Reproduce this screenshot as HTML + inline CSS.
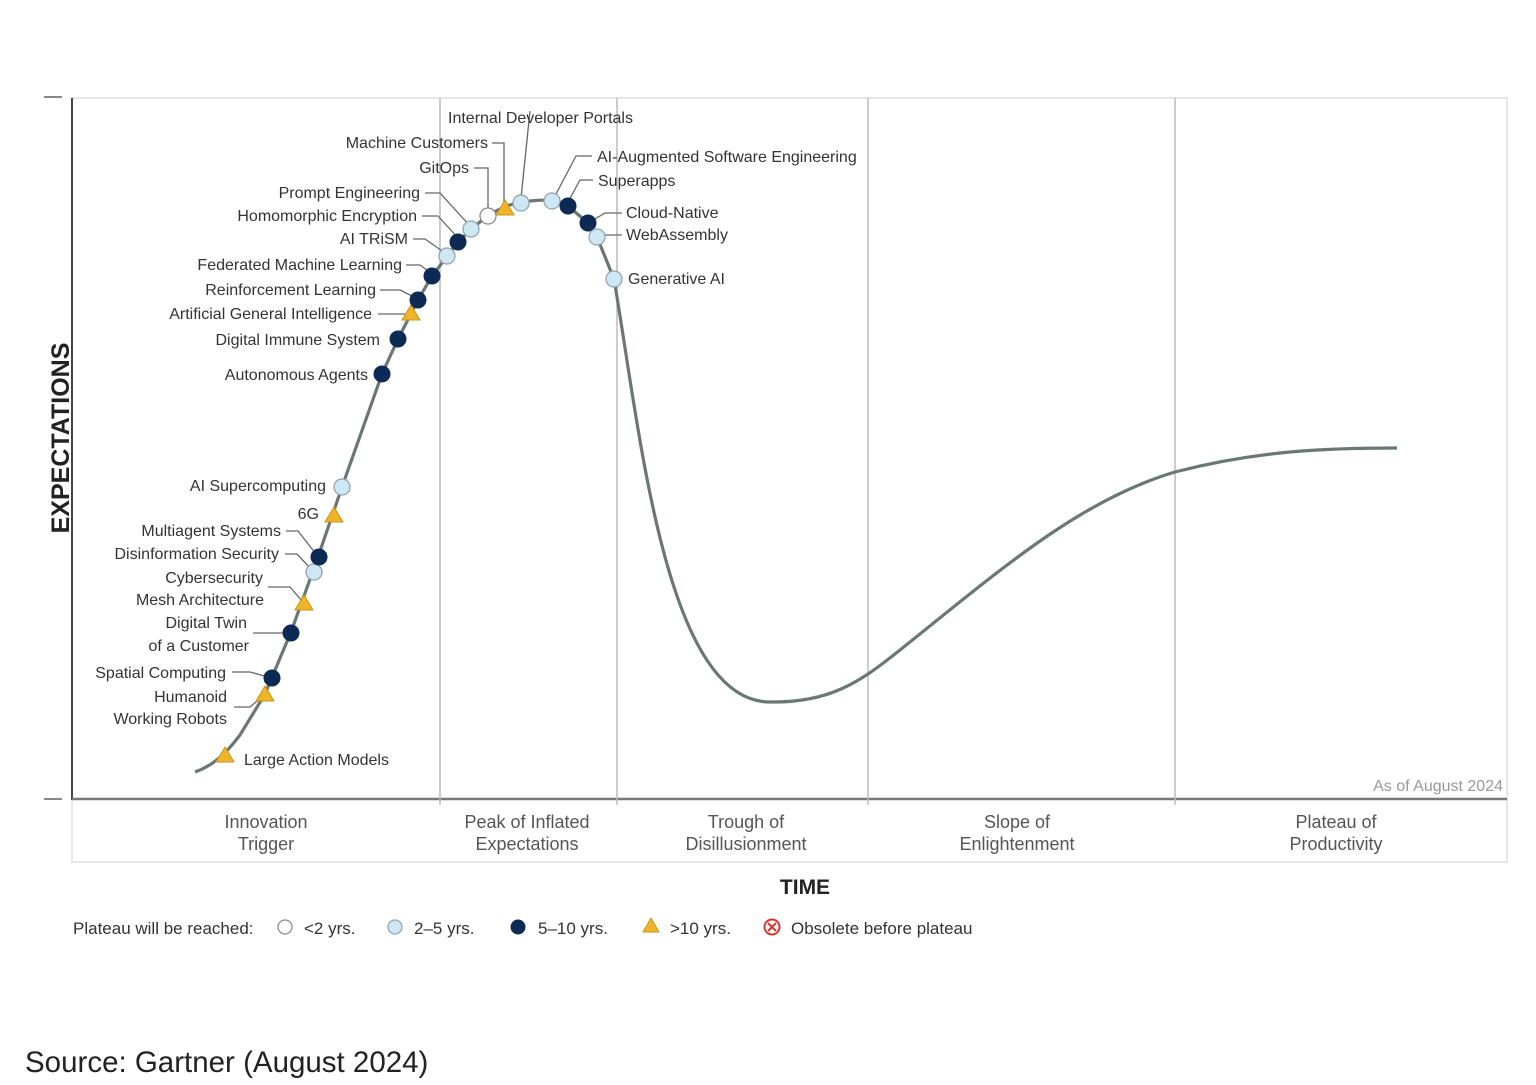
<!DOCTYPE html>
<html><head><meta charset="utf-8"><style>
html,body{margin:0;padding:0;background:#fff;}
svg{display:block;font-family:"Liberation Sans",sans-serif;}
.l{font-size:16px;fill:#333;}
.ph{font-size:18px;fill:#555;text-anchor:middle;}
.ld{stroke:#666;stroke-width:1.3;fill:none;}
.d{fill:#0d2a55;stroke:#0d2a55;stroke-width:1;}
.b{fill:#cfe6f3;stroke:#8fa5b0;stroke-width:1.3;}
.w{fill:#fff;stroke:#8a8a8a;stroke-width:1.3;}
.t{fill:#f0b429;stroke:#c9951c;stroke-width:1;}
</style></head><body>
<svg width="1536" height="1085" viewBox="0 0 1536 1085">
<rect x="72" y="98" width="1435" height="764" fill="none" stroke="#ddd" stroke-width="1.5"/>
<line x1="72" y1="98" x2="72" y2="800" stroke="#444" stroke-width="2"/>
<line x1="72" y1="799" x2="1507" y2="799" stroke="#777" stroke-width="2.5"/>
<line x1="44" y1="97" x2="62" y2="97" stroke="#888" stroke-width="2"/>
<line x1="44" y1="799" x2="62" y2="799" stroke="#888" stroke-width="2"/>
<g stroke="#bbb" stroke-width="1.5">
<line x1="440" y1="98" x2="440" y2="805"/>
<line x1="617" y1="98" x2="617" y2="805"/>
<line x1="868" y1="98" x2="868" y2="805"/>
<line x1="1175" y1="98" x2="1175" y2="805"/>
</g>
<path d="M195,772 C212,766 225,755 240,735 L265,694 L291,632 L318,557 L342,487 L382,374 L398,339 L418,300 L432,276 L458,242 C480,220 500,203 530,201 C550,199 560,200 568,206 L588,223 L597,237 L614,279 C640,430 665,702 770,702 C830,703 860,682 900,650 C1000,570 1080,500 1175,472 C1260,450 1330,448 1397,448" fill="none" stroke="#6b7775" stroke-width="3.2"/>
<g class="ld">
<polyline points="492,143 504,143 504,205"/>
<polyline points="474,168 488,168 488,210"/>
<polyline points="425,193 440,193 470,226"/>
<polyline points="422,216 438,216 458,238"/>
<polyline points="413,239 425,239 445,253"/>
<polyline points="406,265 420,265 431,273"/>
<polyline points="380,290 400,290 416,298"/>
<polyline points="378,314 408,314"/>
<polyline points="530,111 521,198"/>
<polyline points="592,156 576,156 555,196"/>
<polyline points="593,180 580,180 568,202"/>
<polyline points="622,213 605,213 590,222"/>
<polyline points="622,235 600,235"/>
<polyline points="286,531 298,531 316,554"/>
<polyline points="285,554 297,554 312,570"/>
<polyline points="268,587 290,587 302,601"/>
<polyline points="253,633 288,633"/>
<polyline points="232,672 250,672 268,677"/>
<polyline points="234,707 250,707 262,697"/>
</g>
<g>
<polygon class="t" points="225,747 234,762 216,762"/>
<polygon class="t" points="265,686 274,701 256,701"/>
<circle class="d" cx="272" cy="678" r="8"/>
<circle class="d" cx="291" cy="633" r="8"/>
<polygon class="t" points="304,595 313,610 295,610"/>
<circle class="b" cx="314" cy="572" r="8"/>
<circle class="d" cx="319" cy="557" r="8"/>
<polygon class="t" points="334,507 343,522 325,522"/>
<circle class="b" cx="342" cy="487" r="8"/>
<circle class="d" cx="382" cy="374" r="8"/>
<circle class="d" cx="398" cy="339" r="8"/>
<polygon class="t" points="411,305 420,320 402,320"/>
<circle class="d" cx="418" cy="300" r="8"/>
<circle class="d" cx="432" cy="276" r="8"/>
<circle class="b" cx="447" cy="256" r="8"/>
<circle class="d" cx="458" cy="242" r="8"/>
<circle class="b" cx="471" cy="229" r="8"/>
<circle class="w" cx="488" cy="216" r="8"/>
<polygon class="t" points="505,200 514,215 496,215"/>
<circle class="b" cx="521" cy="203" r="8"/>
<circle class="b" cx="552" cy="201" r="8"/>
<circle class="d" cx="568" cy="206" r="8"/>
<circle class="d" cx="588" cy="223" r="8"/>
<circle class="b" cx="597" cy="237" r="8"/>
<circle class="b" cx="614" cy="279" r="8"/>
</g>
<g class="l" text-anchor="end">
<text x="488" y="148">Machine Customers</text>
<text x="469" y="173">GitOps</text>
<text x="420" y="198">Prompt Engineering</text>
<text x="417" y="221">Homomorphic Encryption</text>
<text x="408" y="244">AI TRiSM</text>
<text x="402" y="270">Federated Machine Learning</text>
<text x="376" y="295">Reinforcement Learning</text>
<text x="372" y="319">Artificial General Intelligence</text>
<text x="380" y="345">Digital Immune System</text>
<text x="368" y="380">Autonomous Agents</text>
<text x="326" y="491">AI Supercomputing</text>
<text x="319" y="519">6G</text>
<text x="281" y="536">Multiagent Systems</text>
<text x="279" y="559">Disinformation Security</text>
<text x="263" y="583">Cybersecurity</text>
<text x="264" y="605">Mesh Architecture</text>
<text x="247" y="628">Digital Twin</text>
<text x="249" y="651">of a Customer</text>
<text x="226" y="678">Spatial Computing</text>
<text x="227" y="702">Humanoid</text>
<text x="227" y="724">Working Robots</text>
</g>
<g class="l">
<text x="244" y="765">Large Action Models</text>
<text x="448" y="123">Internal Developer Portals</text>
<text x="597" y="162">AI-Augmented Software Engineering</text>
<text x="598" y="186">Superapps</text>
<text x="626" y="218">Cloud-Native</text>
<text x="626" y="240">WebAssembly</text>
<text x="628" y="284">Generative AI</text>
</g>
<text x="1503" y="791" font-size="16" fill="#999" text-anchor="end">As of August 2024</text>
<text class="ph" x="266" y="828">Innovation</text><text class="ph" x="266" y="850">Trigger</text>
<text class="ph" x="527" y="828">Peak of Inflated</text><text class="ph" x="527" y="850">Expectations</text>
<text class="ph" x="746" y="828">Trough of</text><text class="ph" x="746" y="850">Disillusionment</text>
<text class="ph" x="1017" y="828">Slope of</text><text class="ph" x="1017" y="850">Enlightenment</text>
<text class="ph" x="1336" y="828">Plateau of</text><text class="ph" x="1336" y="850">Productivity</text>
<text x="805" y="894" font-size="21" font-weight="bold" fill="#222" text-anchor="middle">TIME</text>
<text transform="translate(69,438) rotate(-90)" font-size="25" font-weight="bold" fill="#222" text-anchor="middle">EXPECTATIONS</text>
<g font-size="17" fill="#333">
<text x="73" y="934">Plateau will be reached:</text>
<circle class="w" cx="285" cy="927" r="7"/><text x="304" y="934">&lt;2 yrs.</text>
<circle class="b" cx="395" cy="927" r="7"/><text x="414" y="934">2–5 yrs.</text>
<circle class="d" cx="518" cy="927" r="7"/><text x="538" y="934">5–10 yrs.</text>
<polygon class="t" points="651,918 659,932 643,932"/><text x="670" y="934">&gt;10 yrs.</text>
<circle cx="772" cy="927" r="7.5" fill="#fff" stroke="#d33" stroke-width="2"/>
<path d="M768,923 L776,931 M776,923 L768,931" stroke="#d33" stroke-width="2"/>
<text x="791" y="934">Obsolete before plateau</text>
</g>
<text x="25" y="1072" font-size="29.5" fill="#222">Source: Gartner (August 2024)</text>
</svg>
</body></html>
